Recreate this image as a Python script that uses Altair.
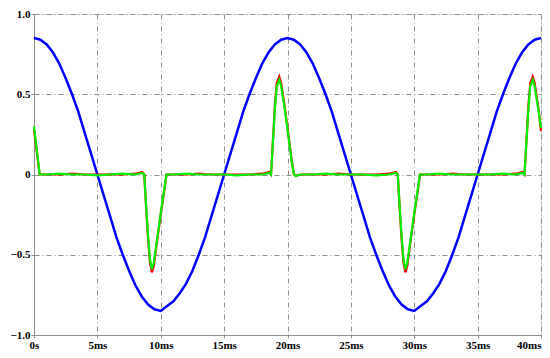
import altair as alt
import pandas as pd

blue_t = [i * 0.5 for i in range(81)]
blue_v = [0.85, 0.84, 0.81, 0.76, 0.69, 0.60, 0.50, 0.39, 0.26, 0.13,
          0.00, -0.13, -0.26, -0.39, -0.50, -0.60, -0.69, -0.76, -0.81, -0.84,
          -0.85, -0.82, -0.79, -0.74, -0.68, -0.60, -0.50, -0.39, -0.26, -0.13,
          0.00, 0.13, 0.26, 0.39, 0.50, 0.60, 0.69, 0.76, 0.81, 0.84,
          0.85, 0.84, 0.81, 0.76, 0.69, 0.60, 0.50, 0.39, 0.26, 0.13,
          0.00, -0.13, -0.26, -0.39, -0.50, -0.60, -0.69, -0.76, -0.81, -0.84,
          -0.85, -0.82, -0.79, -0.74, -0.68, -0.60, -0.50, -0.39, -0.26, -0.13,
          0.00, 0.13, 0.26, 0.39, 0.50, 0.60, 0.69, 0.76, 0.81, 0.84, 0.85]

# Pulse traces (green and red)
pulse_t = [0.0, 0.15, 0.3, 0.45, 1.0, 2.0, 3.0, 4.0, 5.0, 6.0, 7.0, 8.0, 8.55, 8.7,
           8.85, 9.0, 9.15, 9.3, 9.45, 9.7, 10.0, 10.3, 10.45, 10.6, 11.0, 12.0,
           13.0, 14.0, 15.0, 16.0, 17.0, 18.0, 18.55, 18.7,
           18.85, 19.0, 19.15, 19.35, 19.5, 19.8, 20.1, 20.35, 20.5, 20.65, 21.0,
           22.0, 23.0, 24.0, 25.0, 26.0, 27.0, 28.0, 28.55, 28.7,
           28.85, 29.0, 29.15, 29.3, 29.45, 29.7, 30.0, 30.3, 30.45, 30.6, 31.0,
           32.0, 33.0, 34.0, 35.0, 36.0, 37.0, 38.0, 38.55, 38.7,
           38.85, 39.0, 39.15, 39.35, 39.5, 39.8, 40.0]
green_v = [0.30, 0.20, 0.10, 0.00, 0.00, 0.005, 0.00, 0.00, -0.005, 0.00, 0.005, 0.00, 0.01, 0.00,
           -0.20, -0.38, -0.53, -0.59, -0.55, -0.41, -0.24, -0.08, 0.00, 0.00, 0.00, 0.005,
           0.00, 0.00, 0.00, -0.005, 0.00, 0.00, 0.01, 0.00,
           0.20, 0.40, 0.55, 0.59, 0.55, 0.40, 0.22, 0.07, 0.00, -0.01, 0.00,
           0.00, 0.005, 0.00, 0.00, 0.00, -0.005, 0.00, 0.01, 0.00,
           -0.20, -0.38, -0.53, -0.59, -0.55, -0.41, -0.24, -0.08, 0.00, 0.00, 0.00,
           0.005, 0.00, 0.00, 0.00, 0.00, 0.005, 0.00, 0.01, 0.00,
           0.20, 0.40, 0.55, 0.59, 0.55, 0.40, 0.29]
red_v = [0.28, 0.19, 0.09, 0.00, 0.00, 0.00, 0.005, 0.00, 0.00, 0.00, 0.00, 0.005, 0.015, 0.00,
         -0.21, -0.40, -0.55, -0.61, -0.57, -0.42, -0.25, -0.09, 0.00, 0.00, 0.00, 0.00,
         0.005, 0.00, 0.00, 0.00, 0.00, 0.005, 0.015, 0.00,
         0.21, 0.42, 0.57, 0.61, 0.57, 0.41, 0.23, 0.08, 0.00, -0.01, 0.00,
         0.00, 0.00, 0.005, 0.00, 0.00, 0.00, 0.005, 0.015, 0.00,
         -0.21, -0.40, -0.55, -0.61, -0.57, -0.42, -0.25, -0.09, 0.00, 0.00, 0.00,
         0.00, 0.005, 0.00, 0.00, 0.00, 0.00, 0.005, 0.015, 0.00,
         0.21, 0.42, 0.57, 0.61, 0.57, 0.41, 0.27]

x_ticks = [0, 5, 10, 15, 20, 25, 30, 35, 40]
y_ticks = [-1.0, -0.5, 0.0, 0.5, 1.0]

blue_df = pd.DataFrame({"t": blue_t, "v": blue_v})
pulse_df = pd.DataFrame({"t": pulse_t, "green": green_v, "red": red_v})

FONT = "Liberation Serif"
GRID = "#8c8c8c"

x_enc = alt.X("t:Q", scale=alt.Scale(domain=[0, 40], nice=False),
              axis=alt.Axis(values=x_ticks, title=None,
                            labelExpr="datum.value == 0 ? '0s' : datum.value + 'ms'",
                            labelAlign={"expr": "datum.value == 40 ? 'right' : 'center'"},
                            grid=True, gridDash=[5, 3, 1, 3], gridColor=GRID, gridWidth=1,
                            domainColor=GRID, tickColor=GRID, tickSize=3, labelPadding=1,
                            labelFont=FONT, labelFontSize=11, labelFontWeight="bold",
                            labelColor="#000000"))
y_axis = alt.Axis(values=y_ticks, title=None,
                  labelExpr="datum.value == 0 ? '0' : format(datum.value, '.1f')",
                  grid=True, gridDash=[5, 3, 1, 3], gridColor=GRID, gridWidth=1,
                  domainColor=GRID, tickColor=GRID, tickSize=3, labelPadding=1,
                  labelFont=FONT, labelFontSize=11, labelFontWeight="bold",
                  labelColor="#000000")
y_scale = alt.Scale(domain=[-1, 1], nice=False)

blue = alt.Chart(blue_df).mark_line(color="#0000ff", strokeWidth=2.5).encode(
    x=x_enc, y=alt.Y("v:Q", scale=y_scale, axis=y_axis))
red = alt.Chart(pulse_df).mark_line(color="#ff0000", strokeWidth=2.2).encode(
    x=x_enc, y=alt.Y("red:Q", scale=y_scale, axis=y_axis))
green = alt.Chart(pulse_df).mark_line(color="#00f000", strokeWidth=2.2).encode(
    x=x_enc, y=alt.Y("green:Q", scale=y_scale, axis=y_axis))

chart = alt.layer(blue, red, green).properties(
    width=507, height=321,
    autosize=alt.AutoSizeParams(type="none"),
    padding={"left": 26, "right": 1, "top": 6, "bottom": 15},
).configure_view(stroke=GRID, strokeWidth=1).configure(background="white")

chart.save("out.html", embed_options={"renderer": "svg", "actions": False})
